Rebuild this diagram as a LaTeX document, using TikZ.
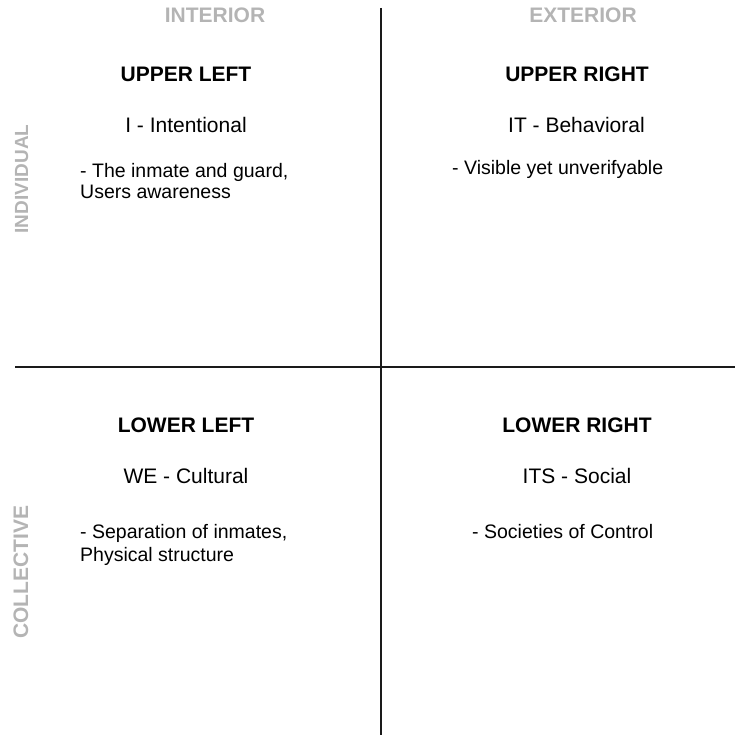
\documentclass[tikz,border=0pt]{standalone}
\usepackage{fontspec}
\setmainfont{Liberation Sans}
\usetikzlibrary{positioning}

\definecolor{axisgray}{HTML}{B4B4B4}
\definecolor{inkdark}{HTML}{1A1A1A}

\begin{document}
\begin{tikzpicture}[
    x=1pt, y=-1pt,
    % Style des titres d'axes
    axislabel/.style={
        text=axisgray,
        font=\fontsize{21}{24}\selectfont\bfseries,
        inner sep=0pt
    },
    quadtitle/.style={
        text=black,
        font=\fontsize{21}{24}\selectfont\bfseries,
        anchor=base,
        inner sep=0pt
    },
    quadname/.style={
        text=black,
        font=\fontsize{21}{24}\selectfont,
        anchor=base,
        inner sep=0pt
    },
    % notes : l'ancre base est sur la derniere ligne
    quadnote/.style={
        text=black,
        font=\fontsize{19.5}{21}\selectfont,
        anchor=base west,
        align=left,
        inner sep=0pt
    },
    axisline/.style={
        draw=inkdark,
        line width=2pt
    }
]

    \useasboundingbox (0,0) rectangle (735,735);

    % --- AXES ---
    \coordinate (top)    at (381,8);
    \coordinate (bottom) at (381,735);
    \coordinate (left)   at (15,366.5);
    \coordinate (right)  at (735,366.5);

    \draw[axisline] (top) -- (bottom);
    \draw[axisline] (left) -- (right);

    % Titres des axes
    \node[axislabel, anchor=base] (interior) at (215,23) {INTERIOR};
    \node[axislabel, anchor=base] (exterior) at (583,23) {EXTERIOR};
    \node[axislabel, rotate=90, anchor=base, font=\fontsize{19}{22}\selectfont\bfseries] (individual) at (28,179) {INDIVIDUAL};
    \node[axislabel, rotate=90, anchor=base] (collective) at (28,572) {COLLECTIVE};

    % --- QUADRANTS ---

    % Haut gauche
    \node[quadtitle] (ul) at (186,82) {UPPER LEFT};
    \node[quadname]  (ulname) at (186,133) {I - Intentional};
    \node[quadnote]  (ulnote) at (80,199) {- The inmate and guard,\\Users awareness};

    % Haut droite
    \node[quadtitle] (ur) at (577,82) {UPPER RIGHT};
    \node[quadname]  (urname) at (576.5,133) {IT - Behavioral};
    \node[quadnote]  (urnote) at (452,175) {- Visible yet unverifyable};

    % Bas gauche
    \node[quadtitle] (ll) at (186,432) {LOWER LEFT};
    \node[quadname]  (llname) at (186,483) {WE - Cultural};
    \node[quadnote, font=\fontsize{19.5}{23}\selectfont] (llnote) at (80,561) {- Separation of inmates,\\Physical structure};

    % Bas droite
    \node[quadtitle] (lr) at (577,432) {LOWER RIGHT};
    \node[quadname]  (lrname) at (577,483) {ITS - Social};
    \node[quadnote]  (lrnote) at (472,538) {- Societies of Control};

\end{tikzpicture}
\end{document}
